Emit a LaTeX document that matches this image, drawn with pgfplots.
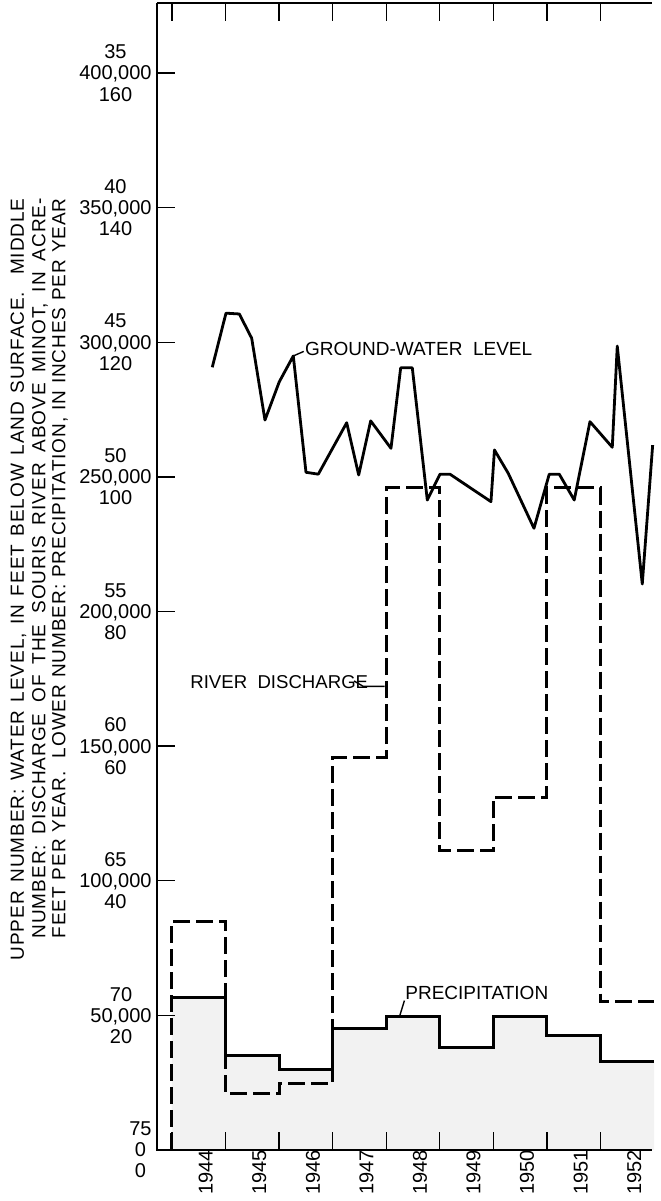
\documentclass[border=0pt]{standalone}
\usepackage{fontspec}
\setmainfont{Liberation Sans}
\newfontfamily\lsfont{Liberation Sans}[LetterSpace=5]
\usepackage{pgfplots}
\usepackage{pgfplotstable}
\pgfplotsset{compat=1.18}

% ground-water level, feet below land surface
\pgfplotstableread{
year level
1944.752 45.93
1945.008 43.92
1945.257 43.95
1945.488 44.85
1945.736 47.89
1946.003 46.47
1946.265 45.51
1946.502 49.83
1946.732 49.90
1947.262 47.99
1947.486 49.93
1947.710 47.92
1948.089 48.94
1948.270 45.95
1948.487 45.95
1948.767 50.86
1949.004 49.90
1949.190 49.90
1949.956 50.92
1950.021 49.00
1950.279 49.87
1950.759 51.91
1951.044 49.90
1951.231 49.90
1951.511 50.86
1951.804 47.95
1952.221 48.90
1952.314 45.14
1952.781 53.98
1952.975 48.82
}\gw

% precipitation, inches per year
\pgfplotstableread{
year p
1944 22.7
1945 14.0
1946 12.0
1947 18.0
1948 19.8
1949 15.2
1950 19.8
1951 17.0
1952 13.1
1953 13.1
}\precip

% river discharge, acre-feet per year
\pgfplotstableread{
year q
1944 0
1944 85050
1945 20800
1946 24880
1947 145960
1948 245870
1949 111050
1950 131100
1951 245870
1952 54970
1953 54970
}\disch

\begin{document}
\begin{tikzpicture}
\useasboundingbox (0,0) rectangle (330pt,600.5pt);
\begin{axis}[
  at={(78.5pt,25.5pt)}, anchor=south west,
  scale only axis, width=248.5pt, height=573.5pt,
  xmin=1943.72, xmax=1953, ymin=0, ymax=426000,
  axis line style={draw=none},
  axis on top,
  clip=false,
  tick align=inside,
  major tick length=9pt, minor tick length=9pt,
  tick style={line width=0.65pt, black},
  xtick={1944.5,1945.5,1946.5,1947.5,1948.5,1949.5,1950.5,1951.5,1952.5},
  xticklabels={1944,1945,1946,1947,1948,1949,1950,1951,1952},
  every major x tick/.style={draw=none},
  minor xtick={1944,1945,1946,1947,1948,1949,1950,1951,1952},
  xtick pos=both, xticklabel pos=lower,
  xticklabel style={rotate=90, anchor=east, inner sep=0pt, yshift=-3.5pt,
    font=\fontsize{10}{11}\selectfont},
  ytick={0,50000,100000,150000,200000,250000,300000,350000,400000},
  yticklabels={{75\\0\\0},{70\\50,000\\20},{65\\100,000\\40},{60\\150,000\\60},{55\\200,000\\80},{50\\250,000\\100},{45\\300,000\\120},{40\\350,000\\140},{35\\400,000\\160}},
  ytick pos=left,
  scaled y ticks=false,
  yticklabel style={align=center, inner sep=0pt, xshift=-2.5pt,
    font=\fontsize{10}{10.6}\selectfont},
  /pgf/number format/assume math mode=true,
]
% stippled area under precipitation
\addplot[const plot, draw=none, fill=black!5] table[x=year, y expr=\thisrow{p}*2500] {\precip} \closedcycle;
% river discharge
\addplot[const plot, line width=1.5pt, dash pattern=on 8.5pt off 3pt] table[x=year, y=q] {\disch};
% precipitation
\addplot[const plot, line width=1.4pt] table[x=year, y expr=\thisrow{p}*2500] {\precip};
% ground-water level
\addplot[line width=1.4pt, line join=round] table[x=year, y expr={(75-\thisrow{level})*10000}] {\gw};

% axis lines (left, bottom, top)
\draw[line width=1pt] (rel axis cs:0,1) -- (rel axis cs:0,0) -- (axis cs:1952.97,0);
\draw[line width=1pt] (rel axis cs:0,1) -- (axis cs:1952.97,426000);

% annotations
\node[anchor=west, inner sep=0pt, font=\fontsize{9.5}{10}\selectfont] at (axis cs:1946.48,297500) {GROUND-WATER\ \ LEVEL};
\draw[line width=0.7pt] (axis cs:1946.265,294900) -- (axis cs:1946.46,296600);
\node[anchor=west, inner sep=0pt, font=\fontsize{9.3}{10}\selectfont] at (axis cs:1944.336,173600) {RIVER\ \ DISCHARGE};
\draw[line width=0.7pt] (axis cs:1947.40,174200) -- (axis cs:1947.57,172200) -- (axis cs:1947.97,172200);
\node[anchor=west, inner sep=0pt, font=\fontsize{9.5}{10}\selectfont] at (axis cs:1948.35,58300) {PRECIPITATION};
\draw[line width=0.7pt] (axis cs:1948.257,50140) -- (axis cs:1948.34,55500);

% y-axis description (three rotated lines)
\node[rotate=90, anchor=east, inner sep=0pt, font=\lsfont\fontsize{9.5}{10}\selectfont] at (axis cs:1941.134,353600)
  {\makebox[381pt][s]{UPPER NUMBER: WATER LEVEL, IN FEET BELOW LAND SURFACE.\ \ MIDDLE}};
\node[rotate=90, anchor=east, inner sep=0pt, font=\lsfont\fontsize{9.5}{10}\selectfont] at (axis cs:1941.536,353600)
  {\makebox[370pt][s]{NUMBER: DISCHARGE OF THE SOURIS RIVER ABOVE MINOT, IN ACRE-}};
\node[rotate=90, anchor=east, inner sep=0pt, font=\lsfont\fontsize{9.5}{10}\selectfont] at (axis cs:1941.91,353600)
  {\makebox[370pt][s]{FEET PER YEAR.\ \ LOWER NUMBER: PRECIPITATION, IN INCHES PER YEAR}};
\end{axis}
\end{tikzpicture}
\end{document}
